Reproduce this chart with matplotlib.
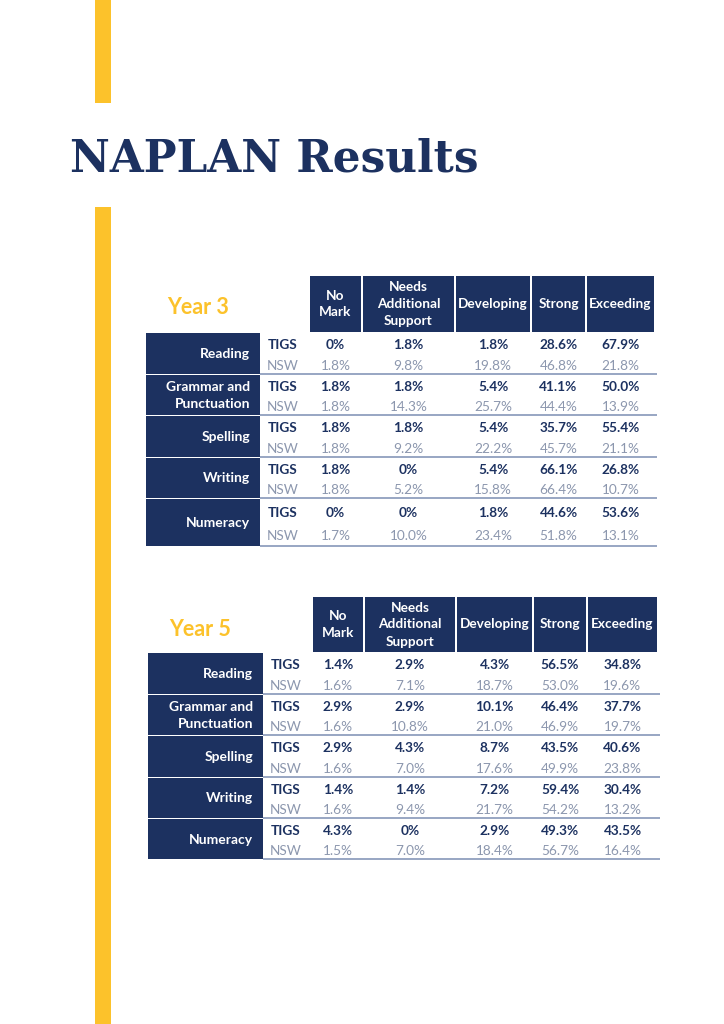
import matplotlib
matplotlib.use('Agg')
import matplotlib.pyplot as plt
import matplotlib.patches as patches

# ---- data ----
levels = ['No\nMark', 'Needs\nAdditional\nSupport', 'Developing', 'Strong', 'Exceeding']
subjects = ['Reading', 'Grammar and\nPunctuation', 'Spelling', 'Writing', 'Numeracy']
groups = ['TIGS', 'NSW']

y3_tigs = [[0, 1.8, 1.8, 28.6, 67.9],
           [1.8, 1.8, 5.4, 41.1, 50.0],
           [1.8, 1.8, 5.4, 35.7, 55.4],
           [1.8, 0, 5.4, 66.1, 26.8],
           [0, 0, 1.8, 44.6, 53.6]]
y3_nsw = [[1.8, 9.8, 19.8, 46.8, 21.8],
          [1.8, 14.3, 25.7, 44.4, 13.9],
          [1.8, 9.2, 22.2, 45.7, 21.1],
          [1.8, 5.2, 15.8, 66.4, 10.7],
          [1.7, 10.0, 23.4, 51.8, 13.1]]

y5_tigs = [[1.4, 2.9, 4.3, 56.5, 34.8],
           [2.9, 2.9, 10.1, 46.4, 37.7],
           [2.9, 4.3, 8.7, 43.5, 40.6],
           [1.4, 1.4, 7.2, 59.4, 30.4],
           [4.3, 0, 2.9, 49.3, 43.5]]
y5_nsw = [[1.6, 7.1, 18.7, 53.0, 19.6],
          [1.6, 10.8, 21.0, 46.9, 19.7],
          [1.6, 7.0, 17.6, 49.9, 23.8],
          [1.6, 9.4, 21.7, 54.2, 13.2],
          [1.5, 7.0, 18.4, 56.7, 16.4]]

NAVY = '#1c3160'
YELLOW = '#fcc22b'
GREY = '#8c97ae'
LINE = '#98a6c3'

plt.rcParams['font.family'] = ['Lato', 'DejaVu Sans']

fig = plt.figure(figsize=(7.24, 10.24), dpi=100)
ax = fig.add_axes([0, 0, 1, 1])
ax.set_xlim(0, 724)
ax.set_ylim(1024, 0)
ax.axis('off')

# yellow side bars
ax.add_patch(patches.Rectangle((95, 0), 16, 103, color=YELLOW, lw=0))
ax.add_patch(patches.Rectangle((95, 207), 16, 817, color=YELLOW, lw=0))

ax.text(70, 172, 'NAPLAN Results', family='DejaVu Serif', weight='bold',
        fontsize=31.5, color=NAVY, ha='left', va='baseline')


def fmt(v):
    return '0%' if v == 0 else '%.1f%%' % v


def draw_table(title, tigs, nsw, x0, top, head_h, col_edges, lab_x, row_edges):
    # title
    ax.text(x0 + 21, top + 32, title, fontsize=15.5, weight='bold', color=YELLOW,
            ha='left', va='center')
    # header boxes
    for i, lab in enumerate(levels):
        l, r = col_edges[i], col_edges[i + 1]
        ax.add_patch(patches.Rectangle((l + 1, top), r - l - 2, head_h, color=NAVY, lw=0))
        ax.text((l + r) / 2, top + head_h / 2, lab, fontsize=9.8, weight='bold', color='white',
                ha='center', va='center', linespacing=1.5)
    # rows
    grp_x = (lab_x[1] + col_edges[0]) / 2 - 2
    for j, subj in enumerate(subjects):
        t, b = row_edges[j], row_edges[j + 1]
        ax.add_patch(patches.Rectangle((lab_x[0], t + 0.5), lab_x[1] - lab_x[0], b - t - 1,
                                       color=NAVY, lw=0))
        ax.text(lab_x[1] - 10, (t + b) / 2 + 1, subj, fontsize=10, weight='bold', color='white',
                ha='right', va='center', multialignment='right', linespacing=1.5)
        yt = t + (b - t) * 0.31
        yn = t + (b - t) * 0.80
        ax.text(grp_x, yt, groups[0], fontsize=9.8, weight='bold', color=NAVY, ha='center', va='center')
        ax.text(grp_x, yn, groups[1], fontsize=9.8, color=GREY, ha='center', va='center')
        for i in range(len(levels)):
            cx = (col_edges[i] + col_edges[i + 1]) / 2
            ax.text(cx, yt, fmt(tigs[j][i]), fontsize=9.8, weight='bold', color=NAVY,
                    ha='center', va='center')
            ax.text(cx, yn, fmt(nsw[j][i]), fontsize=9.8, color=GREY,
                    ha='center', va='center')
        ax.plot([lab_x[1], col_edges[-1] + 2], [b, b], color=LINE, lw=1.4, solid_capstyle='butt')


draw_table('Year 3', y3_tigs, y3_nsw, 146, 276, 56,
           [309, 362, 455, 531, 586, 655], (146, 260),
           [332, 374, 415, 457, 498, 546])
draw_table('Year 5', y5_tigs, y5_nsw, 148, 597, 55,
           [312, 364, 456, 533, 587, 658], (148, 263),
           [652, 694, 735, 777, 818, 859])

fig.savefig('out.png', dpi=100, facecolor='white')
